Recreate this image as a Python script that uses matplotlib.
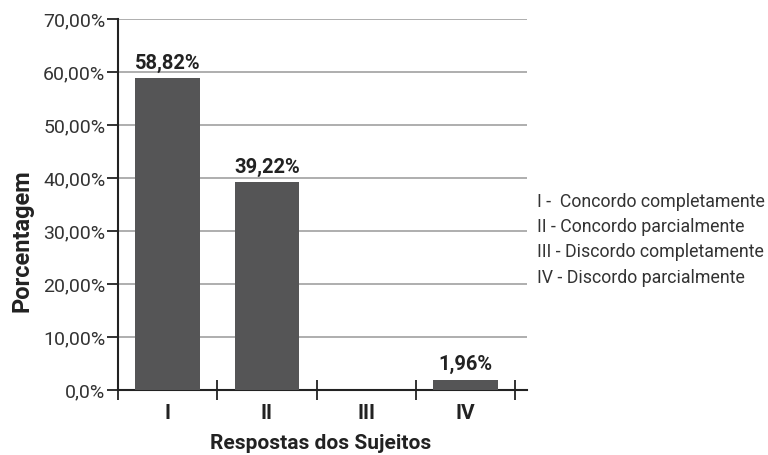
import matplotlib
matplotlib.use("Agg")
import matplotlib.pyplot as plt

categories = ["I", "II", "III", "IV"]
values = [58.82, 39.22, 0.0, 1.96]
value_labels = ["58,82%", "39,22%", "", "1,96%"]
yticks = [0, 10, 20, 30, 40, 50, 60, 70]
ytick_labels = ["0,0%", "10,00%", "20,00%", "30,00%", "40,00%", "50,00%", "60,00%", "70,00%"]
legend_lines = ["I -  Concordo completamente", "II - Concordo parcialmente",
                "III - Discordo completamente", "IV - Discordo parcialmente"]

plt.rcParams['font.family'] = ['Roboto', 'DejaVu Sans']

W, H = 768, 455
fig = plt.figure(figsize=(7.68, 4.55), dpi=100)
ax = fig.add_axes([118/W, 1-390/H, (527-118)/W, (390-19)/H])

x = list(range(len(categories)))
ax.bar(x, values, width=0.65, color="#555556", zorder=3)
for xi, v, lab in zip(x, values, value_labels):
    if lab:
        ax.text(xi, v + 1.0, lab, ha="center", va="bottom", fontsize=14.5,
                fontweight="bold", color="#222222")

ax.set_ylim(0, 70)
ax.set_xlim(-0.5, 3.5 + 12/99.3)
ax.set_yticks(yticks)
ax.set_yticklabels(ytick_labels, fontsize=14, color="#333333")
ax.yaxis.grid(True, color="#a8a8a8", linewidth=1.3, zorder=0)
ax.set_axisbelow(True)

ax.set_xticks([-0.5, 0.5, 1.5, 2.5, 3.5])
ax.set_xticklabels([])
ax.set_xticks(x, minor=True)
ax.set_xticklabels(categories, minor=True, fontsize=15, fontweight="bold", color="#222222")
ax.tick_params(axis="x", which="major", direction="inout", length=14, width=1.3, color="#222222")
ax.tick_params(axis="x", which="minor", length=0, pad=10)
ax.tick_params(axis="y", direction="out", length=8, width=1.3, color="#222222", pad=1)

for s in ["top", "right"]:
    ax.spines[s].set_visible(False)
for s in ["left", "bottom"]:
    ax.spines[s].set_linewidth(1.5)
    ax.spines[s].set_color("#222222")

fig.text(22/W, 1 - 241/H, "Porcentagem", rotation=90, ha="center", va="center",
         fontsize=17, fontweight="bold", color="#222222")
fig.text(321/W, 1 - 449/H, "Respostas dos Sujeitos", ha="center", va="baseline",
         fontsize=15, fontweight="bold", color="#222222")

ys = [202, 227, 252, 278]
for t, yp in zip(legend_lines, ys):
    fig.text(537/W, 1 - yp/H, t, ha="left", va="center", fontsize=12.8, color="#333333")

fig.savefig("out.png", dpi=100)
